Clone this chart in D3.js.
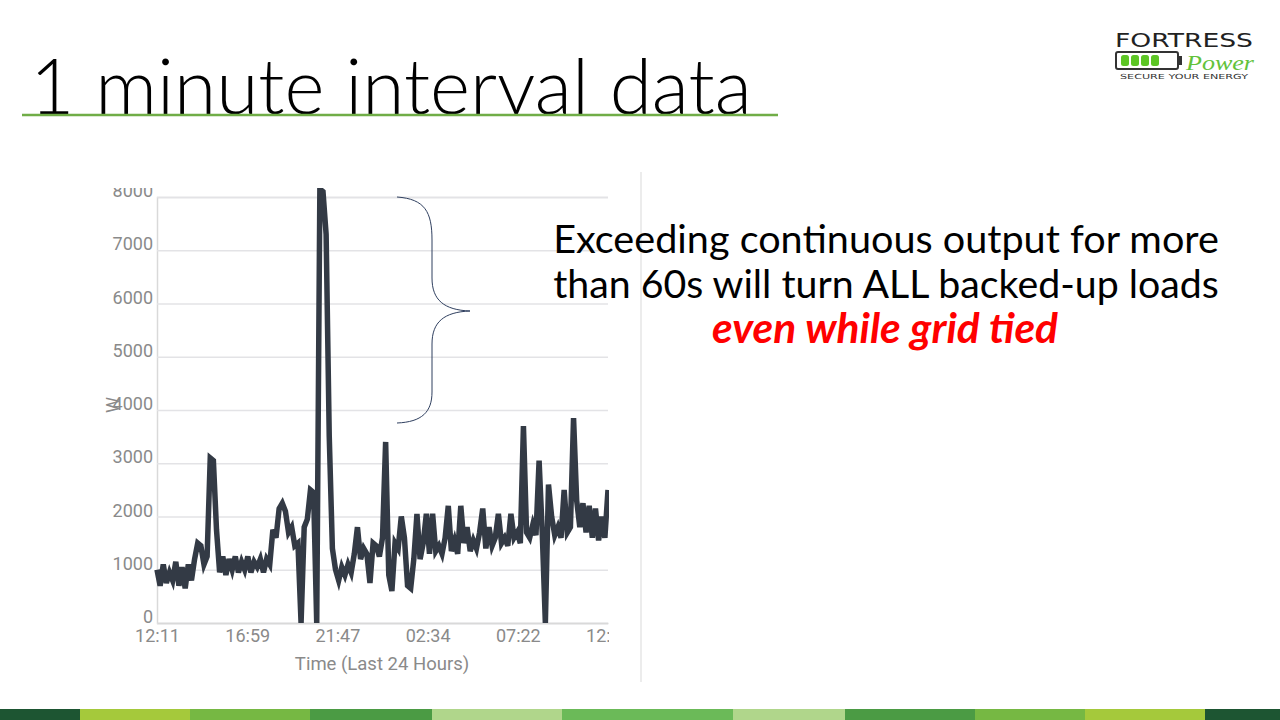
<!DOCTYPE html>
<html>
<head>
<meta charset="utf-8">
<script src="https://cdn.jsdelivr.net/npm/d3@7"></script>
<style>
  html, body { margin: 0; padding: 0; background: #ffffff; }
  svg { display: block; }
</style>
</head>
<body>
<div id="slide"></div>
<script>
// minutes since 12:11 (last 24 hours) and power in W
var timeMin = [0, 10, 20, 30, 40, 50, 60, 70, 80, 90, 100, 110, 120, 130, 140, 150, 160, 170, 180, 190,
  200, 210, 220, 230, 240, 250, 260, 270, 280, 290, 300, 310, 320, 330, 340, 350, 360, 370, 380, 390,
  400, 410, 420, 430, 440, 450, 460, 470, 480, 490, 500, 510, 520, 530, 540, 550, 560, 570, 580, 590,
  600, 610, 620, 630, 640, 650, 660, 670, 680, 690, 700, 710, 720, 730, 740, 750, 760, 770, 780, 790,
  800, 810, 820, 830, 840, 850, 860, 870, 880, 890, 900, 910, 920, 930, 940, 950, 960, 970, 980, 990,
  1000, 1010, 1020, 1030, 1040, 1050, 1060, 1070, 1080, 1090, 1100, 1110, 1120, 1130, 1140, 1150, 1160, 1170, 1180, 1190,
  1200, 1210, 1220, 1230, 1240, 1250, 1260, 1270, 1280, 1290, 1300, 1310, 1320, 1330, 1340, 1350, 1360, 1370, 1380, 1390,
  1400, 1410, 1420, 1430, 1440];
var watts = [1000, 700, 1100, 750, 950, 800, 1150, 700, 1050, 650, 1100, 800, 1200, 1500, 1450, 1100, 1250, 3100, 3050, 1750,
  950, 1250, 900, 1200, 1000, 1250, 950, 1150, 1000, 1250, 950, 1150, 1050, 1200, 950, 1200, 1100, 1750, 1600, 2150,
  2250, 2100, 1700, 1800, 1450, 1500, 0, 1800, 1950, 2500, 2450, 0, 8150, 8100, 7300, 3500, 1400, 1000, 800, 1050,
  900, 1100, 950, 1300, 1800, 1200, 1400, 1300, 750, 1500, 1450, 1250, 1600, 3400, 900, 600, 1500, 1400, 2000, 1600,
  700, 650, 1200, 2050, 1200, 1500, 2050, 1300, 2050, 1350, 1450, 1300, 1600, 2200, 1350, 1550, 1300, 2200, 1500, 1800,
  1350, 1550, 1400, 1700, 2150, 1400, 1800, 1450, 1600, 2050, 1500, 1600, 1450, 2050, 1600, 1700, 1500, 3700, 1700, 1600,
  1850, 1650, 3050, 1700, 0, 2600, 2000, 1650, 1800, 1600, 2500, 1700, 1800, 3850, 2300, 1800, 2250, 1700, 2200, 1600,
  2150, 1550, 2000, 1600, 2500];

var yTicks = [0, 1000, 2000, 3000, 4000, 5000, 6000, 7000, 8000];
var xTickMin = [0, 288, 576, 864, 1152, 1440];
var xTickLabels = ['12:11', '16:59', '21:47', '02:34', '07:22', '12:11'];

var footerColors = ['#1d5532', '#a5c93b', '#76b843', '#4b9b44', '#b0d68b', '#6bba58', '#b0d68b', '#4b9b44', '#76b843', '#a5c93b', '#1d5532'];
var footerEdges = [0, 80, 190, 310, 432, 562, 733, 845, 975, 1085, 1205, 1280];

var W = 1280, H = 720;
var svg = d3.select('#slide').append('svg').attr('width', W).attr('height', H);

// shrink/grow a text so it spans the given width
function fitWidth(sel, width) {
    var fs = parseFloat(sel.attr('font-size'));
    var len = sel.node().getComputedTextLength();
    sel.attr('font-size', (fs * width / len).toFixed(2));
}

// Titolo
var title = svg.append('text')
    .attr('x', 30).attr('y', 114)
    .attr('font-family', 'Lato, "Open Sans", sans-serif')
    .attr('font-weight', 300)
    .attr('font-size', 72)
    .attr('fill', '#000')
    .text('1 minute interval data');
fitWidth(title, 722);
svg.append('line').attr('x1', 22).attr('x2', 778).attr('y1', 115).attr('y2', 115)
    .attr('stroke', '#70ad47').attr('stroke-width', 2.5);

// Chart (screenshot area)
var x = d3.scaleLinear().domain([0, 1440]).range([157, 608]);
var y = d3.scaleLinear().domain([0, 8000]).range([623, 197]);

svg.append('clipPath').attr('id', 'shotClip')
    .append('rect').attr('x', 90).attr('y', 188).attr('width', 519).attr('height', 500);
var chart = svg.append('g').attr('clip-path', 'url(#shotClip)');

var tickFont = 'Roboto, sans-serif', tickColor = '#8a8a8a';

var yAxis = chart.append('g')
    .attr('transform', 'translate(157,0)')
    .call(d3.axisLeft(y).tickValues(yTicks).tickSize(-451).tickPadding(4).tickFormat(d3.format('d')));
yAxis.select('.domain').attr('stroke', '#d9d9d9').attr('stroke-width', 1.5);
yAxis.selectAll('.tick line').attr('stroke', '#e3e3e6').attr('stroke-width', 1.5);
yAxis.selectAll('.tick text')
    .attr('fill', tickColor).attr('font-family', tickFont).attr('font-size', 18)
    .attr('dy', '-0.02em');

var xAxis = chart.append('g')
    .attr('transform', 'translate(0,623)')
    .call(d3.axisBottom(x).tickValues(xTickMin).tickSize(0).tickPadding(6)
        .tickFormat(function (d, i) { return xTickLabels[i]; }));
xAxis.select('.domain').attr('stroke', '#d9d9d9').attr('stroke-width', 1.5);
xAxis.selectAll('.tick text')
    .attr('fill', tickColor).attr('font-family', tickFont).attr('font-size', 18);

chart.append('text')
    .attr('x', 382).attr('y', 670).attr('text-anchor', 'middle')
    .attr('fill', tickColor).attr('font-family', tickFont).attr('font-size', 18.5)
    .text('Time (Last 24 Hours)');
chart.append('text')
    .attr('transform', 'translate(119,405) rotate(-90)').attr('text-anchor', 'middle')
    .attr('fill', tickColor).attr('font-family', tickFont).attr('font-size', 18)
    .text('W');

var line = d3.line()
    .x(function (d, i) { return x(timeMin[i]); })
    .y(function (d) { return y(d); });
chart.append('path')
    .datum(watts)
    .attr('d', line)
    .attr('fill', 'none')
    .attr('stroke', '#333a45')
    .attr('stroke-width', 5.5);

// divisore verticale dello screenshot
svg.append('line').attr('x1', 641).attr('x2', 641).attr('y1', 172).attr('y2', 682)
    .attr('stroke', '#ececec').attr('stroke-width', 2);

// Parentesi graffa
svg.append('path')
    .attr('d', 'M397,197 C425,199 432,212 432,240 L432,278 C432,300 444,310 470,311 C444,312 432,322 432,344 L432,392 C432,412 422,422 397,423')
    .attr('fill', 'none').attr('stroke', '#2f3f5f').attr('stroke-width', 1);

// Testo
var body = [
    { t: 'Exceeding continuous output for more', y: 253, w: 666 },
    { t: 'than 60s will turn ALL backed-up loads', y: 298, w: 666 }
];
body.forEach(function (b) {
    var s = svg.append('text')
        .attr('x', 886).attr('y', b.y).attr('text-anchor', 'middle')
        .attr('font-family', 'Lato, "Open Sans", sans-serif').attr('font-size', 34)
        .attr('fill', '#000').text(b.t);
    fitWidth(s, b.w);
});
var red = svg.append('text')
    .attr('x', 885).attr('y', 343).attr('text-anchor', 'middle')
    .attr('font-family', 'Lato, "Open Sans", sans-serif').attr('font-size', 34)
    .attr('font-weight', 'bold').attr('font-style', 'italic')
    .attr('fill', '#ff0000').text('even while grid tied');
fitWidth(red, 346);

// Logo
var logo = svg.append('g');
logo.append('text').attr('x', 1115).attr('y', 47)
    .attr('font-family', '"DejaVu Sans", sans-serif').attr('font-size', 19)
    .attr('fill', '#222').attr('textLength', 138).attr('lengthAdjust', 'spacingAndGlyphs')
    .text('FORTRESS');
logo.append('rect').attr('x', 1116).attr('y', 52).attr('width', 62).attr('height', 17).attr('rx', 2)
    .attr('fill', 'none').attr('stroke', '#333').attr('stroke-width', 2);
logo.append('rect').attr('x', 1178).attr('y', 56).attr('width', 4).attr('height', 9).attr('fill', '#333');
[1121, 1131, 1141, 1151].forEach(function (cx) {
    logo.append('rect').attr('x', cx).attr('y', 55).attr('width', 8).attr('height', 11).attr('rx', 2.5)
        .attr('fill', '#5cc524');
});
logo.append('text').attr('x', 1186).attr('y', 70)
    .attr('font-family', '"Liberation Serif", serif').attr('font-style', 'italic').attr('font-size', 21)
    .attr('fill', '#62c23a').attr('textLength', 68).attr('lengthAdjust', 'spacingAndGlyphs').text('Power');
logo.append('text').attr('x', 1120).attr('y', 79)
    .attr('font-family', '"DejaVu Sans", sans-serif').attr('font-size', 7)
    .attr('fill', '#333').attr('textLength', 128).attr('lengthAdjust', 'spacingAndGlyphs')
    .text('SECURE YOUR ENERGY');

// Barra inferiore
svg.append('g').selectAll('rect')
    .data(footerColors)
    .enter()
    .append('rect')
    .attr('x', function (d, i) { return footerEdges[i]; })
    .attr('width', function (d, i) { return footerEdges[i + 1] - footerEdges[i]; })
    .attr('y', 709).attr('height', 11)
    .attr('fill', function (d) { return d; });
</script>
</body>
</html>
